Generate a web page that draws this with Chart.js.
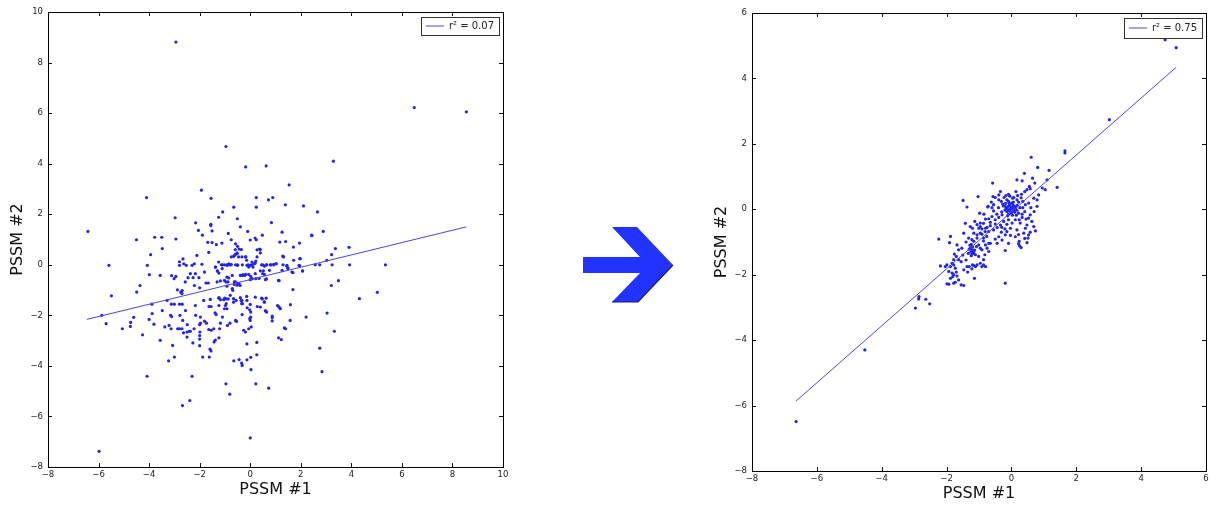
<!DOCTYPE html>
<html>
<head>
<meta charset="utf-8">
<script src="https://cdn.jsdelivr.net/npm/chart.js@4.4.1/dist/chart.umd.min.js"></script>
<style>
html,body{margin:0;padding:0;background:#fff;width:1227px;height:508px;overflow:hidden;}
#c1{position:absolute;left:0;top:0;}
#c2{position:absolute;left:700px;top:0;}
#arrow{position:absolute;left:0;top:0;}
</style>
</head>
<body>
<canvas id="c1" width="520" height="508"></canvas>
<svg id="arrow" width="1227" height="508" xmlns="http://www.w3.org/2000/svg">
  <polygon points="583,257 640,257 612,227 637,227 673,265 638,302 612,302 640,273 583,273" fill="#2233ff"/>
  <polyline points="673,265 638,302 612,302" fill="none" stroke="#1b1b6e" stroke-width="1.2"/>
</svg>
<canvas id="c2" width="527" height="508"></canvas>
<script>
// ---------- data: left panel (before) ----------
const leftPSSM1 = [
-2.94,6.49,8.55,-0.96,-0.18,0.63,3.29,1.54,-1.93,-4.10,
-1.55,0.24,0.72,0.89,1.39,0.24,-0.65,2.11,2.66,-1.09,
-2.97,-1.25,-0.51,-2.16,-1.56,-1.56,0.84,-6.42,-2.05,-1.51,
-0.87,-0.39,-0.10,1.26,2.89,2.43,2.44,0.48,-1.89,-3.78,
-3.50,-2.94,-4.50,-0.75,0.00,0.19,0.24,-0.58,1.17,1.40,
1.95,-1.68,-1.51,-1.34,-1.12,-0.50,-0.44,-0.35,0.37,0.40,
0.27,-0.59,1.71,3.37,3.91,-3.48,-3.94,-1.64,-2.11,-0.62,
-0.52,-0.17,1.29,-0.14,0.22,0.16,-0.75,-1.25,-2.66,-2.80,
-2.63,-2.80,-2.53,-2.30,-2.21,-1.91,-4.07,-5.59,-1.09,-0.92,
-0.84,-0.75,-0.58,-0.50,-0.08,0.00,0.08,0.49,0.63,0.82,
0.93,1.02,1.30,1.45,1.49,1.96,1.96,2.57,2.75,3.24,
3.93,5.35,3.03,3.22,2.07,1.69,0.76,0.40,0.52,0.56,
0.02,-0.31,-0.22,0.22,0.60,1.14,-1.38,-1.30,-1.11,-3.11,
-2.94,-3.99,-4.36,-3.56,-2.37,-2.17,-2.46,-2.26,-2.03,-1.75,
-1.66,-2.21,-2.00,-2.57,-2.69,-2.75,-2.70,-2.88,-3.01,-4.49,
-5.49,-3.29,-3.48,-3.12,-3.00,-3.89,-2.80,-2.69,-2.56,-2.17,
-1.84,-1.63,-1.58,-1.24,-1.01,-0.95,-1.24,-1.55,-1.39,-1.35,
-0.98,-1.02,-0.92,-0.71,-0.69,-0.63,-0.59,-0.50,-0.44,-0.40,
-0.92,-0.88,-1.02,-0.79,-0.66,-0.36,-0.31,-0.14,-0.12,-0.02,
0.02,0.02,-0.02,0.00,0.45,0.63,0.56,0.28,0.60,0.65,
0.87,0.87,1.08,1.17,1.59,1.69,2.21,4.32,5.03,3.49,
3.21,3.04,3.33,2.75,2.84,1.58,1.35,1.40,1.12,1.23,
0.26,0.26,0.22,0.73,0.03,0.00,0.02,-0.13,-0.44,-0.34,
-0.32,-0.65,-0.96,-0.81,-0.13,-0.26,-0.19,-0.06,0.04,-0.32,
-0.58,-0.54,-0.90,-0.80,-1.10,-1.18,-1.44,-1.54,-1.64,-1.21,
-1.24,-1.38,-1.43,-1.59,-1.55,-1.62,-1.88,-2.00,-2.00,-2.00,
-1.99,-1.97,-2.00,-1.81,-1.73,-1.97,-2.16,-2.22,-2.27,-2.30,
-2.39,-2.68,-2.41,-2.37,-2.50,-2.49,-2.50,-2.70,-2.64,-2.87,
-2.80,-2.67,-2.78,-3.15,-3.11,-3.21,-3.13,-3.07,-3.00,-3.23,
-3.56,-3.38,-3.81,-3.88,-4.00,-4.26,-4.61,-4.73,-4.74,-5.06,
-5.70,-5.87,-4.08,-5.98,-1.81,
-1.37,-1.30,-1.24,-1.14,-1.02,-0.92,-0.85,-0.77,-0.66,-0.59,
-0.52,-0.50,-0.46,-0.33,-0.31,-0.19,-0.13,-0.06,0.00,0.07,
0.11,0.20,0.27,0.40,0.45,0.56,0.66,0.80,0.93,1.03,
1.12,1.26,1.32,1.45,1.49,1.65,1.72,1.93,1.98,2.07,
-1.31,-1.18,-0.96,-0.92,-0.85,-0.71,-0.63,-0.52,-0.39,-0.29,
-0.18,-0.06,0.00,0.08,0.20,0.35,0.49,0.64,
-1.24,-1.18,-1.05,-0.95,-0.87,-0.66,-0.56,-0.39,-0.33,-0.34,
-0.13,0.00,0.20,0.40,0.48,0.56,0.62,0.87,1.12,1.19
];
const leftPSSM2 = [
8.81,6.22,6.05,4.68,3.87,3.91,4.10,3.16,2.95,2.66,
2.63,2.66,2.57,2.66,2.37,2.28,2.28,2.33,2.09,2.09,
1.86,1.88,1.82,1.66,1.60,1.55,1.67,1.32,1.36,1.34,
1.24,1.50,1.32,1.29,1.32,1.17,1.15,1.17,1.17,1.09,
1.09,1.02,0.99,0.99,0.98,1.06,0.99,0.83,0.90,0.92,
0.86,0.89,0.88,0.80,0.86,0.73,0.62,0.60,0.62,0.60,
0.59,0.60,0.70,0.64,0.69,0.64,0.40,0.49,0.37,0.37,
0.44,0.31,0.34,0.18,0.15,0.04,0.31,0.11,0.23,0.12,
0.04,-0.02,-0.02,-0.02,0.04,0.02,-0.02,-0.02,0.00,0.00,
0.00,0.01,0.00,0.00,0.00,-0.03,0.00,0.00,0.00,0.00,
0.00,0.04,0.00,-0.05,-0.12,0.24,-0.04,0.00,0.00,0.00,
0.00,0.00,0.18,0.40,-0.24,-0.31,-0.22,-0.24,-0.24,-0.38,
-0.46,-0.42,-0.42,-0.55,-0.59,-0.63,-0.09,-0.24,-0.15,-0.43,
-0.46,-0.39,-0.82,-0.42,-0.35,-0.35,-0.51,-0.51,-0.51,-0.72,
-0.72,-0.82,-0.91,-0.68,-1.02,-1.08,-1.14,-0.99,-0.55,-1.08,
-1.23,-1.41,-1.81,-1.56,-1.56,-1.56,-1.56,-1.56,-1.81,-1.61,
-1.41,-1.65,-1.37,-1.32,-1.32,-1.35,-1.61,-1.65,-1.90,-1.97,
-1.61,-1.74,-1.74,-0.94,-1.01,-0.78,-0.68,-0.72,-0.75,-0.82,
-0.49,-0.68,-0.62,-1.21,-1.48,-1.41,-1.54,-1.25,-1.70,-1.78,
-1.87,-2.07,-2.13,-2.20,-1.32,-1.32,-1.48,-1.65,-1.81,-1.87,
-2.03,-2.22,-1.61,-1.70,-1.58,-0.98,-2.07,-1.34,-1.09,-0.63,
-0.82,-1.91,-2.63,-3.30,-4.23,-2.20,-2.50,-2.53,-2.89,-2.96,
-3.07,-3.56,-4.71,-4.88,-4.15,-6.85,-3.66,-3.76,-3.75,-3.89,
-3.98,-3.80,-4.71,-5.12,-3.13,-2.59,-2.66,-2.53,-2.46,-1.97,
-2.20,-2.24,-2.40,-2.31,-2.07,-2.31,-2.53,-2.59,-2.56,-2.53,
-2.89,-2.98,-3.05,-3.34,-3.41,-3.65,-3.65,-2.80,-2.94,-3.20,
-2.66,-2.31,-2.37,-2.23,-2.31,-2.07,-2.00,-2.53,-3.09,-4.41,
-5.37,-5.57,-2.63,-2.63,-2.86,-2.37,-2.66,-2.53,-2.69,-2.53,
-2.53,-2.20,-2.00,-2.00,-2.05,-2.40,-2.53,-3.19,-3.65,-3.80,
-2.99,-2.46,-2.35,-1.93,-2.16,-2.77,-2.08,-2.28,-2.44,-2.53,
-2.33,-2.00,-4.41,-7.38,-0.29,
-0.09,-0.25,-0.33,0.00,0.00,-0.02,0.04,0.00,0.33,0.41,
0.47,-0.02,0.31,0.31,0.00,0.31,-0.02,-0.09,-0.01,0.11,
-0.09,0.07,0.31,0.47,0.00,-0.05,0.00,0.00,0.02,0.04,
-0.62,-0.22,0.31,-0.02,-0.15,-0.29,0.18,-0.02,0.24,-0.25,
-0.68,-0.64,-0.68,-0.85,-0.52,-0.42,-0.68,-0.81,-0.42,-0.39,
-0.38,-0.38,-0.59,-0.55,-0.35,-0.54,-0.35,-0.56,
-1.30,-1.38,-1.38,-1.54,-1.35,-1.34,-1.41,-1.30,-1.41,-1.54,
-1.41,-1.57,-1.28,-1.67,-1.35,-1.47,-1.84,-2.09,-1.65,-1.74
];
const leftFitX = [-6.46, 8.55];
const leftFitY = [-2.16, 1.50];
const leftLabel = 'r\u00B2 = 0.07';
const leftTicksX = [-8, -6, -4, -2, 0, 2, 4, 6, 8, 10];
const leftTicksY = [-8, -6, -4, -2, 0, 2, 4, 6, 8, 10];

// ---------- data: right panel (after) ----------
const rightPSSM1 = [
-6.64,-4.52,-2.96,-2.86,-2.85,-2.64,-2.52,4.74,5.08,3.02,1.65,1.65,1.41,1.16,1.10,1.04,0.95,-0.19,0.30,0.25,-0.19,0.41,
-1.49,-1.37,-1.03,-0.73,-0.98,-1.13,-1.42,-1.27,-1.20,-1.06,
-0.96,-0.91,-0.86,-0.81,-0.96,-1.06,-1.16,-0.76,-0.86,-0.70,
-1.47,-1.32,-1.22,-1.16,-1.24,-1.27,-1.20,-1.16,-1.22,-1.11,
-1.19,-1.08,-1.01,-0.96,-0.91,-0.80,-0.75,-0.70,-0.82,-1.01,
-0.86,-0.96,-1.06,-1.11,-1.20,-1.37,-1.30,-1.47,-1.68,-1.63,
-1.53,-1.88,-1.91,-2.24,-1.76,-1.70,-1.78,-1.63,-1.83,-1.78,
-1.88,-1.73,-1.99,-2.04,-2.19,-1.93,-1.83,-1.70,-1.78,-1.88,
-1.81,-1.68,-1.63,-1.55,-1.78,-1.73,-1.99,-1.93,-1.47,-1.14,
-1.16,-1.35,-1.22,-0.91,-0.86,-0.80,
0.61,0.81,0.40,0.17,0.33,0.65,0.72,-0.58,0.55,0.58,
0.48,0.41,0.31,0.14,0.19,0.07,-0.09,-0.17,-0.23,-0.34,
-0.39,-0.50,-0.57,-0.72,-0.62,-0.55,-0.39,-0.31,-0.27,-0.14,
-0.09,0.00,0.04,0.17,0.22,0.35,0.43,0.53,0.69,0.79,
0.84,0.79,0.70,-0.19,-0.14,-0.09,-0.03,0.02,0.07,0.12,
0.05,-0.05,-0.14,0.00,0.10,0.17,-0.09,0.22,0.33,0.41,
0.33,0.24,0.53,0.58,0.63,0.48,0.43,0.69,0.74,0.58,
0.53,0.38,0.17,0.22,0.12,0.24,0.51,0.48,-0.29,-0.39,
-0.50,-0.60,-0.70,-0.24,-0.14,-0.34,-0.44,-0.55,-0.09,0.02,
-0.03,-0.14,-0.19,-0.03,-0.31,-0.39,-0.50,-0.29,-0.65,-0.70,
-0.80,-0.91,-0.96,-1.01,-1.06,-0.86,-0.65,-0.44,-0.09,0.22,
0.12,0.27,
-0.15,-0.10,-0.05,0.00,0.05,0.08,0.14,-0.02,0.10,-0.20,
-0.25,0.18,0.03,-0.12,0.15,-0.07,0.26,-0.30,0.06,-0.18,
-1.25,-1.30,-1.18,-1.24,-1.14,-1.33,-1.28,-1.20,
-0.45,-0.55,-0.65,-0.80,-0.85,-0.60,-0.40,-0.50,-0.75,-0.30,
-0.20,-1.40,-1.50,-1.55,-1.40,0.35,0.45,0.60,0.30,-0.05
];
const rightPSSM2 = [
-6.49,-4.30,-3.02,-2.74,-2.67,-2.75,-2.89,5.18,4.94,2.74,1.79,1.72,0.67,1.19,0.90,0.60,0.65,-2.26,-1.17,-1.12,-1.26,-0.89,
0.27,0.07,0.39,0.07,-0.12,-0.37,-0.43,-0.53,-0.58,-0.47,
-0.53,-0.60,-0.43,-0.68,-0.73,-0.78,-0.73,-0.83,-0.88,-1.04,
-0.73,-0.88,-0.93,-0.98,-1.07,-1.19,-1.24,-1.34,-1.37,-1.39,
-1.29,-1.14,-1.09,-1.19,-1.24,-1.09,-1.19,-1.29,-1.39,-1.44,
-1.54,-1.65,-1.70,-1.75,-1.70,-1.75,-1.75,-1.85,-1.09,-1.24,
-1.19,-0.83,-1.02,-0.91,-1.37,-1.44,-1.54,-1.54,-1.65,-1.70,
-1.75,-1.80,-1.70,-1.75,-1.73,-1.90,-1.95,-1.92,-2.00,-2.11,
-2.06,-2.04,-2.16,-2.31,-2.26,-2.23,-2.28,-2.29,-2.33,-2.11,
-1.72,-1.92,-1.82,-1.75,-1.70,-1.75,
1.59,1.28,1.10,0.90,0.87,0.95,0.80,0.80,0.70,0.63,
0.60,0.54,0.46,0.54,0.42,0.36,0.46,0.42,0.36,0.54,
0.44,0.36,0.39,0.09,0.22,0.14,0.29,0.24,0.16,0.29,
0.24,0.19,0.34,0.29,0.22,0.24,0.14,0.19,0.34,0.29,
0.44,0.09,-0.07,0.09,0.03,0.09,0.01,0.06,0.09,0.03,
-0.02,-0.05,-0.07,-0.10,-0.09,-0.03,-0.15,-0.12,-0.15,-0.07,
-0.25,-0.32,-0.27,-0.17,-0.37,-0.48,-0.58,-0.53,-0.66,-0.70,
-0.78,-0.73,-0.63,-0.77,-0.84,-0.98,-0.88,-1.02,-0.17,-0.25,
-0.32,-0.22,-0.29,-0.37,-0.46,-0.48,-0.56,-0.63,-0.32,-0.42,
-0.58,-0.68,-0.78,-0.80,-0.70,-0.84,-0.91,-0.94,-0.50,-0.68,
-0.58,-0.76,-0.42,-0.58,-0.88,-0.97,-1.04,-1.04,-1.04,-1.05,
-0.32,-0.42,
0.05,-0.02,0.12,0.05,0.14,-0.05,0.08,-0.12,0.00,-0.02,
0.10,0.12,-0.18,-0.20,-0.18,0.17,0.05,-0.08,0.22,0.18,
-1.30,-1.22,-1.33,-1.42,-1.25,-1.35,-1.10,-1.15,
-0.15,-0.05,-0.40,-0.30,-0.15,0.05,0.05,-0.45,-0.55,-0.55,
-0.60,-1.00,-1.40,-1.60,-1.55,0.05,-0.30,0.05,0.35,0.40
];
const rightFitX = [-6.64, 5.08];
const rightFitY = [-5.86, 4.34];
const rightLabel = 'r\u00B2 = 0.75';
const rightTicksX = [-8, -6, -4, -2, 0, 2, 4, 6];
const rightTicksY = [-8, -6, -4, -2, 0, 2, 4, 6];

const axisTitleX = 'PSSM #1';
const axisTitleY = 'PSSM #2';

// ---------- rendering ----------
const FONT = "'DejaVu Sans', sans-serif";
Chart.defaults.font.family = FONT;
Chart.defaults.color = '#222';

const POINT_COLOR = '#2424e6';
const LINE_COLOR = '#4646e8';
const LEGEND_FS = 10;
const LEGEND_LINE = 18;

const minusFmt = v => (v < 0 ? '\u2212' + Math.abs(v) : String(v));

const framePlugin = {
  id: 'mplFrame',
  afterLayout(chart) {
    const lg = chart.legend, ca = chart.chartArea;
    if (!lg || !lg.legendItems || !lg.legendItems.length) return;
    const pad = chart.options.plugins.legend.labels.padding;
    const cfg = chart.options.plugins.mplFrame;
    const ctx = chart.ctx;
    ctx.save();
    ctx.font = LEGEND_FS + 'px ' + FONT;
    const textW = ctx.measureText(lg.legendItems[0].text).width;
    ctx.restore();
    const contentW = LEGEND_LINE + LEGEND_FS / 2 + textW;
    const frameRight = ca.right - cfg.legendRight;
    const frameTop = ca.top + cfg.legendTop;
    const frameH = cfg.legendH;
    const inner = 5;
    lg.left = frameRight - inner - contentW - pad;
    lg.top = frameTop + frameH / 2 - pad - LEGEND_FS / 2;
    lg.right = lg.left + pad + contentW + 2;
    lg.bottom = lg.top + frameH + pad;
    chart.$legendFrame = {x: lg.left + pad - inner, y: frameTop, w: contentW + 2 * inner, h: frameH};
  },
  afterDraw(chart) {
    const ctx = chart.ctx, ca = chart.chartArea;
    const L = 4;
    const xs = chart.scales.x, ys = chart.scales.y;
    ctx.save();
    ctx.strokeStyle = '#111';
    ctx.lineWidth = 1;
    ctx.beginPath();
    xs.ticks.forEach(t => {
      const p = Math.round(xs.getPixelForValue(t.value)) + 0.5;
      ctx.moveTo(p, ca.bottom); ctx.lineTo(p, ca.bottom - L);
      ctx.moveTo(p, ca.top); ctx.lineTo(p, ca.top + L);
    });
    ys.ticks.forEach(t => {
      const p = Math.round(ys.getPixelForValue(t.value)) + 0.5;
      ctx.moveTo(ca.left, p); ctx.lineTo(ca.left + L, p);
      ctx.moveTo(ca.right, p); ctx.lineTo(ca.right - L, p);
    });
    ctx.stroke();
    ctx.strokeStyle = '#000';
    ctx.strokeRect(Math.round(ca.left) + 0.5, Math.round(ca.top) + 0.5,
                   Math.round(ca.right - ca.left), Math.round(ca.bottom - ca.top));
    const f = chart.$legendFrame;
    if (f) {
      ctx.strokeStyle = '#333';
      ctx.strokeRect(Math.round(f.x) + 0.5, Math.round(f.y) + 0.5, Math.round(f.w), Math.round(f.h));
    }
    ctx.restore();
  }
};

function axis(ticksArr, pos, size, titleText, titlePad, tickPad) {
  return {
    type: 'linear',
    position: pos,
    min: ticksArr[0],
    max: ticksArr[ticksArr.length - 1],
    afterBuildTicks: s => { s.ticks = ticksArr.map(v => ({value: v})); },
    afterFit: s => { if (pos === 'bottom') s.height = size; else s.width = size; },
    grid: {display: false, drawTicks: false},
    border: {display: false},
    ticks: {font: {size: 8.5}, color: '#222', padding: tickPad, maxRotation: 0, autoSkip: false, callback: minusFmt},
    title: {display: true, text: titleText, font: {size: 16}, color: '#111', padding: titlePad}
  };
}

function makeChart(id, xsArr, ysArr, fitX, fitY, label, ticksX, ticksY, lay) {
  const pts = xsArr.map((x, i) => ({x: x, y: ysArr[i]}));
  const fit = fitX.map((x, i) => ({x: x, y: fitY[i]}));
  return new Chart(document.getElementById(id), {
    type: 'scatter',
    data: {
      datasets: [
        {label: 'data', data: pts, pointRadius: 1.6, pointHoverRadius: 1.6,
         backgroundColor: POINT_COLOR, borderWidth: 0, order: 1},
        {label: label, data: fit, showLine: true, pointRadius: 0, pointHoverRadius: 0,
         borderColor: LINE_COLOR, backgroundColor: LINE_COLOR, borderWidth: 1, order: 0}
      ]
    },
    options: {
      responsive: false,
      animation: false,
      devicePixelRatio: 1,
      events: [],
      layout: {padding: lay.pad},
      scales: {
        x: axis(ticksX, 'bottom', lay.xh, axisTitleX, {top: 0, bottom: lay.xtp}, 3),
        y: axis(ticksY, 'left', lay.yw, axisTitleY, {top: lay.ytp, bottom: 0}, 5)
      },
      plugins: {
        legend: {
          position: 'chartArea',
          align: 'start',
          labels: {
            filter: it => it.datasetIndex === 1,
            usePointStyle: true,
            pointStyle: 'line',
            pointStyleWidth: LEGEND_LINE,
            font: {size: LEGEND_FS},
            color: '#222',
            padding: 5
          }
        },
        tooltip: {enabled: false},
        mplFrame: {legendRight: 4, legendTop: 5, legendH: lay.lh}
      }
    },
    plugins: [framePlugin]
  });
}

makeChart('c1', leftPSSM1, leftPSSM2, leftFitX, leftFitY, leftLabel, leftTicksX, leftTicksY,
  {pad: {left: 0, right: 17, top: 12, bottom: 0}, xh: 41, yw: 48, xtp: 9, ytp: 8.7, lh: 18});
makeChart('c2', rightPSSM1, rightPSSM2, rightFitX, rightFitY, rightLabel, rightTicksX, rightTicksY,
  {pad: {left: 0, right: 21, top: 13, bottom: 0}, xh: 37, yw: 52, xtp: 5, ytp: 12.1, lh: 20});
</script>
</body>
</html>
